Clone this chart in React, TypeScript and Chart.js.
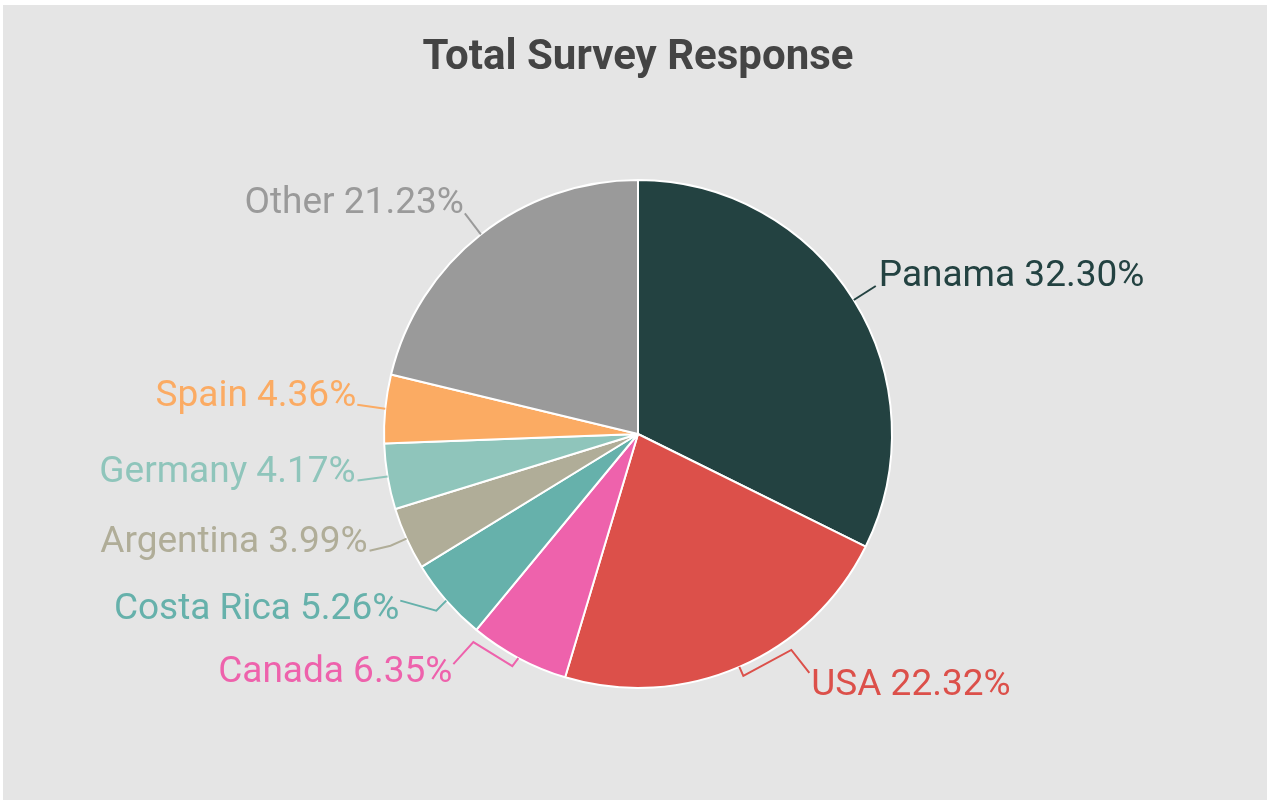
import React, { useEffect, useRef } from "react";
import { Chart, registerables } from "chart.js";

Chart.register(...registerables);

const categories = ["Panama", "USA", "Canada", "Costa Rica", "Argentina", "Germany", "Spain", "Other"];
const values = [32.3, 22.32, 6.35, 5.26, 3.99, 4.17, 4.36, 21.23];
const sliceColors = ["#234241", "#dc504a", "#ee62ac", "#66b1ab", "#b0ad98", "#8fc5bb", "#fbab63", "#9a9a9a"];
const titleText = "Total Survey Response";

// Leader line layout (offsets from the slice's outer mid-point) and label text offsets
const leaderPaths: number[][][] = [
  [[22, -14]],
  [[4, 9], [52, -17], [70, 6]],
  [[-6, 8], [-45, -16], [-65, 6]],
  [[-10, 10], [-46, 0]],
  [[-16, 7], [-37, 12]],
  [[-30, 4]],
  [[-28, -4]],
  [[-16, -21]],
];
const labelOffsets: number[][] = [
  [25, -14],
  [72, 28],
  [-66, 24],
  [-47, 18],
  [-39, 13],
  [-32, 5],
  [-29, -3],
  [-17, -21],
];

const labelPlugin = {
  id: "leaderLabels",
  afterDatasetsDraw(chart: any) {
    const ctx = chart.ctx;
    const meta = chart.getDatasetMeta(0);
    ctx.save();
    meta.data.forEach((arc: any, i: number) => {
      const p = arc.getProps(["x", "y", "startAngle", "endAngle", "outerRadius"], true);
      const mid = (p.startAngle + p.endAngle) / 2;
      const ax = p.x + Math.cos(mid) * p.outerRadius;
      const ay = p.y + Math.sin(mid) * p.outerRadius;
      const color = sliceColors[i];
      ctx.strokeStyle = color;
      ctx.lineWidth = 2;
      ctx.lineJoin = "miter";
      ctx.beginPath();
      ctx.moveTo(ax, ay);
      leaderPaths[i].forEach(([dx, dy]) => ctx.lineTo(ax + dx, ay + dy));
      ctx.stroke();
      const [tx, ty] = labelOffsets[i];
      ctx.fillStyle = color;
      ctx.font = "37px Roboto";
      ctx.textBaseline = "alphabetic";
      ctx.textAlign = tx >= 0 ? "left" : "right";
      ctx.fillText(`${categories[i]} ${values[i].toFixed(2)}%`, ax + tx, ay + ty);
    });
    ctx.restore();
  },
};

export default function App() {
  const ref = useRef<HTMLCanvasElement>(null);
  useEffect(() => {
    document.body.style.margin = "0";
    const chart = new Chart(ref.current!, {
      type: "pie",
      data: {
        labels: categories,
        datasets: [
          {
            data: values,
            backgroundColor: sliceColors,
            borderColor: "#ffffff",
            borderWidth: 2,
          },
        ],
      },
      options: {
        animation: false,
        responsive: false,
        events: [],
        layout: { padding: { top: 0, bottom: 111, left: 380, right: 374 } },
        plugins: {
          legend: { display: false },
          tooltip: { enabled: false },
          title: {
            display: true,
            text: titleText,
            color: "#444444",
            font: { family: "Roboto", size: 42, weight: "bold", lineHeight: 1.2 },
            padding: { top: 28, bottom: 95.6 },
          },
        },
      },
      plugins: [labelPlugin],
    });
    return () => chart.destroy();
  }, []);
  return (
    <div style={{ position: "absolute", left: 3, top: 5, width: 1264, height: 795, background: "#e5e5e5" }}>
      <canvas ref={ref} width={1264} height={795} style={{ display: "block" }} />
    </div>
  );
}
